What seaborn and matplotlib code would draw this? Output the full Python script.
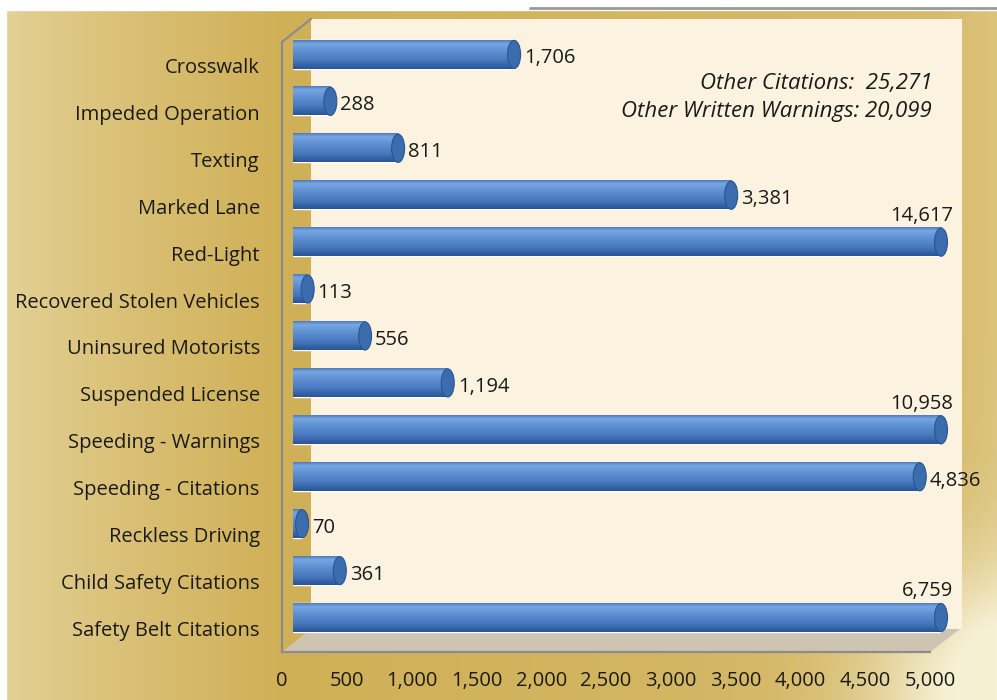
import numpy as np
import pandas as pd
import matplotlib
matplotlib.use("Agg")
import matplotlib.pyplot as plt
from matplotlib.patches import Rectangle, Polygon, Ellipse
import seaborn as sns

sns.set_style("white")
plt.rcParams["font.family"] = ["Open Sans", "DejaVu Sans"]

# data
categories = ["Crosswalk", "Impeded Operation", "Texting", "Marked Lane", "Red-Light",
              "Recovered Stolen Vehicles", "Uninsured Motorists", "Suspended License",
              "Speeding - Warnings", "Speeding - Citations", "Reckless Driving",
              "Child Safety Citations", "Safety Belt Citations"]
counts = [1706, 288, 811, 3381, 14617, 113, 556, 1194, 10958, 4836, 70, 361, 6759]
x_ticks = list(range(0, 5001, 500))
other_notes = ["Other Citations:  25,271", "Other Written Warnings: 20,099"]
x_max = 5000

W, H = 997, 700
FS = 14.5
fig = plt.figure(figsize=(W / 100, H / 100), dpi=100)


def box(x0, y0, x1, y1):
    # pixel box (origin top-left) -> figure fraction rect
    return [x0 / W, 1 - y1 / H, (x1 - x0) / W, (y1 - y0) / H]


# gold backdrop
bg = fig.add_axes([0, 0, 1, 1])
bg.set_xlim(0, W)
bg.set_ylim(H, 0)
bg.axis("off")
px = np.arange(W)[None, :]
py = np.arange(H)[:, None]
light = np.interp(px, [0, 40, 150, 280, 600, 940, 997], [0.55, 0.45, 0.25, 0.05, 0.12, 0.2, 0.35])
glow = 0.95 * np.exp(-((px - W) ** 2 + (py - H) ** 2) / (2 * 90.0 ** 2))
light = np.clip(light + glow, 0, 1)[..., None]
gold = np.array([206, 173, 80]) / 255
pale = np.array([246, 240, 212]) / 255
bg.imshow(gold * (1 - light) + pale * light, extent=(0, W, H, 0), aspect="auto", zorder=0)
bg.add_patch(Rectangle((0, 0), W, 10, color="white", zorder=1))
bg.add_patch(Rectangle((0, 0), 6, H, color="white", zorder=1))
bg.plot([530, W], [8, 8], color="#9a9a9a", lw=2, zorder=2)

# 3d chart frame: back wall, floor, side edge
bg.add_patch(Rectangle((311, 19), 962 - 311, 629 - 19, facecolor="#fbf3df", edgecolor="none", zorder=1))
bg.add_patch(Polygon([(282, 652), (930, 652), (960, 629), (311, 629)], closed=True,
                     facecolor="#cdc4b2", edgecolor="none", zorder=1))
bg.plot([282, 311], [42, 19], color="#8c8c8c", lw=1.6, zorder=2)

for k, note in enumerate(other_notes):
    bg.text(932, 83 + 29 * k, note, ha="right", va="center", fontsize=16,
            style="italic", color="#1a1a1a", zorder=3)

# front axis with labels
ax = fig.add_axes(box(282, 42, 930, 652))
ax.patch.set_alpha(0)
ax.set_xlim(0, x_max)
ax.set_ylim(len(categories) - 0.5, -0.5)
ax.set_xticks(x_ticks)
ax.set_xticklabels([f"{t:,}" for t in x_ticks])
ax.set_yticks(range(len(categories)))
ax.set_yticklabels(categories)
ax.set_yticks(np.arange(-0.5, len(categories), 1), minor=True)
ax.tick_params(axis="y", which="major", length=0, pad=16, labelsize=FS, labelcolor="#1a1a1a")
ax.tick_params(axis="y", which="minor", length=7, width=1.4, color="#8c8c8c", direction="out")
ax.tick_params(axis="x", length=6, width=1.4, color="#8c8c8c", direction="out", pad=8,
               labelsize=FS, labelcolor="#1a1a1a")
for side in ["top", "right"]:
    ax.spines[side].set_visible(False)
for side in ["left", "bottom"]:
    ax.spines[side].set_color("#8c8c8c")
    ax.spines[side].set_linewidth(1.6)

# bars sit a little behind the front axis
bx = fig.add_axes(box(293, 31, 941, 641))
bx.patch.set_alpha(0)
df = pd.DataFrame({"category": categories, "count": counts})
sns.barplot(data=df, x="count", y="category", orient="h", color="#4f86c6",
            saturation=1, width=0.6, ax=bx)
bx.axis("off")

# cylinder shading
stops = [0, 0.12, 0.35, 0.7, 1]
shade = np.array([[80, 125, 190], [120, 166, 226], [96, 146, 212], [72, 120, 190], [42, 84, 150]]) / 255
t = np.linspace(0, 1, 64)
grad = np.stack([np.interp(t, stops, shade[:, c]) for c in range(3)], axis=1)[:, None, :]
cap_w = x_max * 13 / (941 - 293)
for i, p in enumerate(bx.patches):
    x0, y0, w, h = p.get_x(), p.get_y(), p.get_width(), p.get_height()
    x1 = min(x0 + w, x_max)
    bx.imshow(grad, extent=(x0, x1, y0 + h, y0), aspect="auto", origin="upper", zorder=2)
    start = Ellipse((0, y0 + h / 2), cap_w, h, facecolor="none", edgecolor="none")
    bx.add_patch(start)
    im2 = bx.imshow(grad, extent=(-cap_w, cap_w, y0 + h, y0), aspect="auto", origin="upper", zorder=2)
    im2.set_clip_path(start)
    im2.set_clip_box(None)

for i, v in enumerate(counts):
    end = min(v, x_max)
    bx.add_patch(Ellipse((end, i), cap_w, 0.6, facecolor="#3a6cae", edgecolor="#2a5592",
                         lw=0.8, clip_on=False, zorder=4))
    if v > x_max:
        bx.annotate(f"{v:,}", (x_max, i - 0.3), xytext=(12, 7), textcoords="offset pixels",
                    ha="right", va="baseline", fontsize=FS, color="#1a1a1a", annotation_clip=False)
    else:
        bx.annotate(f"{v:,}", (end, i), xytext=(10, -4), textcoords="offset pixels",
                    ha="left", va="center", fontsize=FS, color="#1a1a1a", annotation_clip=False)

bx.set_xlim(0, x_max)
bx.set_ylim(len(categories) - 0.5, -0.5)

fig.savefig("out.png", dpi=100)
